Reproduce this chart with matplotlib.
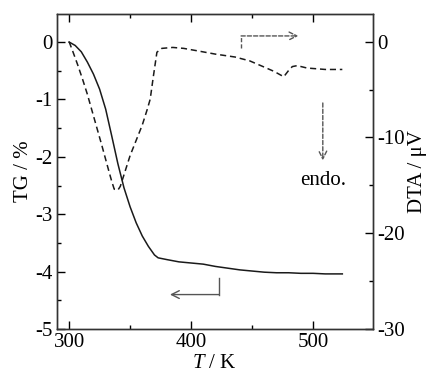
import matplotlib
matplotlib.use("Agg")
import matplotlib.pyplot as plt
from matplotlib.ticker import MultipleLocator

plt.rcParams['font.family'] = ['Liberation Serif', 'DejaVu Serif']
plt.rcParams['mathtext.fontset'] = 'custom'
plt.rcParams['mathtext.it'] = 'Liberation Serif:italic'
plt.rcParams['mathtext.rm'] = 'Liberation Serif'
plt.rcParams['axes.unicode_minus'] = False

# TG data (left axis)
tg_T = [300, 305, 310, 315, 320, 325, 330, 335, 340, 345, 350, 355, 360, 365, 370, 373,
        380, 390, 400, 410, 420, 430, 440, 450, 460, 470, 480, 490, 500, 510, 524]
tg_val = [0, -0.06, -0.17, -0.35, -0.56, -0.82, -1.17, -1.64, -2.12, -2.54, -2.87, -3.15,
          -3.38, -3.56, -3.71, -3.76, -3.79, -3.83, -3.85, -3.87, -3.91, -3.94, -3.97,
          -3.99, -4.01, -4.02, -4.02, -4.03, -4.03, -4.04, -4.04]

# DTA data (right axis)
dta_T = [300, 303, 307, 311, 315, 319, 323, 327, 330, 333, 335, 337, 340, 342, 344, 347,
         350, 355, 360, 364, 366.5, 369, 372, 376, 385, 394, 405, 420, 436, 448, 459,
         468, 476, 480, 483, 487, 495, 510, 524]
dta_val = [0, -1.0, -2.4, -3.9, -5.5, -7.3, -9.1, -10.9, -12.3, -13.7, -14.6, -15.4, -15.5,
           -15.1, -14.3, -13.1, -11.9, -10.3, -8.7, -7.1, -6.0, -3.7, -1.1, -0.7, -0.6, -0.7,
           -0.95, -1.3, -1.6, -2.0, -2.6, -3.1, -3.66, -3.0, -2.6, -2.5, -2.75, -2.9, -2.9]

fig = plt.figure(figsize=(4.31, 3.76), dpi=100)
ax = fig.add_axes([0.132, 0.125, 0.733, 0.838])
ax2 = ax.twinx()

lc = '#1a1a1a'
ax.plot(tg_T, tg_val, color=lc, lw=1.1)
ax2.plot(dta_T, dta_val, color=lc, lw=1.1, dashes=(4, 2.5))

ax.set_xlim(290, 549)
ax.set_ylim(-5, 0.49)
ax2.set_ylim(-30, 2.9)

ax.xaxis.set_major_locator(MultipleLocator(100))
ax.xaxis.set_minor_locator(MultipleLocator(50))
ax.yaxis.set_major_locator(MultipleLocator(1))
ax.yaxis.set_minor_locator(MultipleLocator(0.5))
ax2.yaxis.set_major_locator(MultipleLocator(10))
ax2.yaxis.set_minor_locator(MultipleLocator(5))

fs = 15
ax.tick_params(which='both', direction='in', top=True, right=False, labelsize=fs, width=1, pad=3)
ax.tick_params(which='major', length=6)
ax.tick_params(which='minor', length=3)
ax2.tick_params(which='both', direction='in', labelsize=fs, width=1, pad=3)
ax2.tick_params(which='major', length=6)
ax2.tick_params(which='minor', length=3)

for a in (ax, ax2):
    for s in a.spines.values():
        s.set_linewidth(1.0)
        s.set_color('#333333')

ax.set_ylabel('TG / %', fontsize=fs, labelpad=2)
ax2.set_ylabel('DTA / μV', fontsize=fs, labelpad=2)
ax.set_xlabel(r'$\it{T}$ / K', fontsize=fs, labelpad=1)

ac = '#555555'
# TG arrow (pointing left)
ax.annotate('', xy=(382.7, -4.40), xytext=(423, -4.40),
            arrowprops=dict(arrowstyle='->', color=ac, lw=1.0, shrinkA=0, shrinkB=0,
                            mutation_scale=14))
ax.plot([423, 423], [-4.40, -4.12], color=ac, lw=1.0)

# DTA arrow (pointing right)
ax2.plot([441, 441], [-0.7, 0.6], color=ac, lw=1.0, dashes=(3, 1.5))
ax2.annotate('', xy=(488, 0.6), xytext=(441, 0.6),
             arrowprops=dict(arrowstyle='->', color=ac, lw=1.0, shrinkA=0, shrinkB=0,
                             mutation_scale=14, linestyle=(0, (3, 1.5))))
# endo arrow
ax2.annotate('', xy=(508, -12.4), xytext=(508, -6.4),
             arrowprops=dict(arrowstyle='->', color=ac, lw=1.0, shrinkA=0, shrinkB=0,
                             mutation_scale=14, linestyle=(0, (3, 1.5))))
ax2.text(508, -14.5, 'endo.', ha='center', va='center', fontsize=fs)

fig.savefig('out.png', dpi=100)
